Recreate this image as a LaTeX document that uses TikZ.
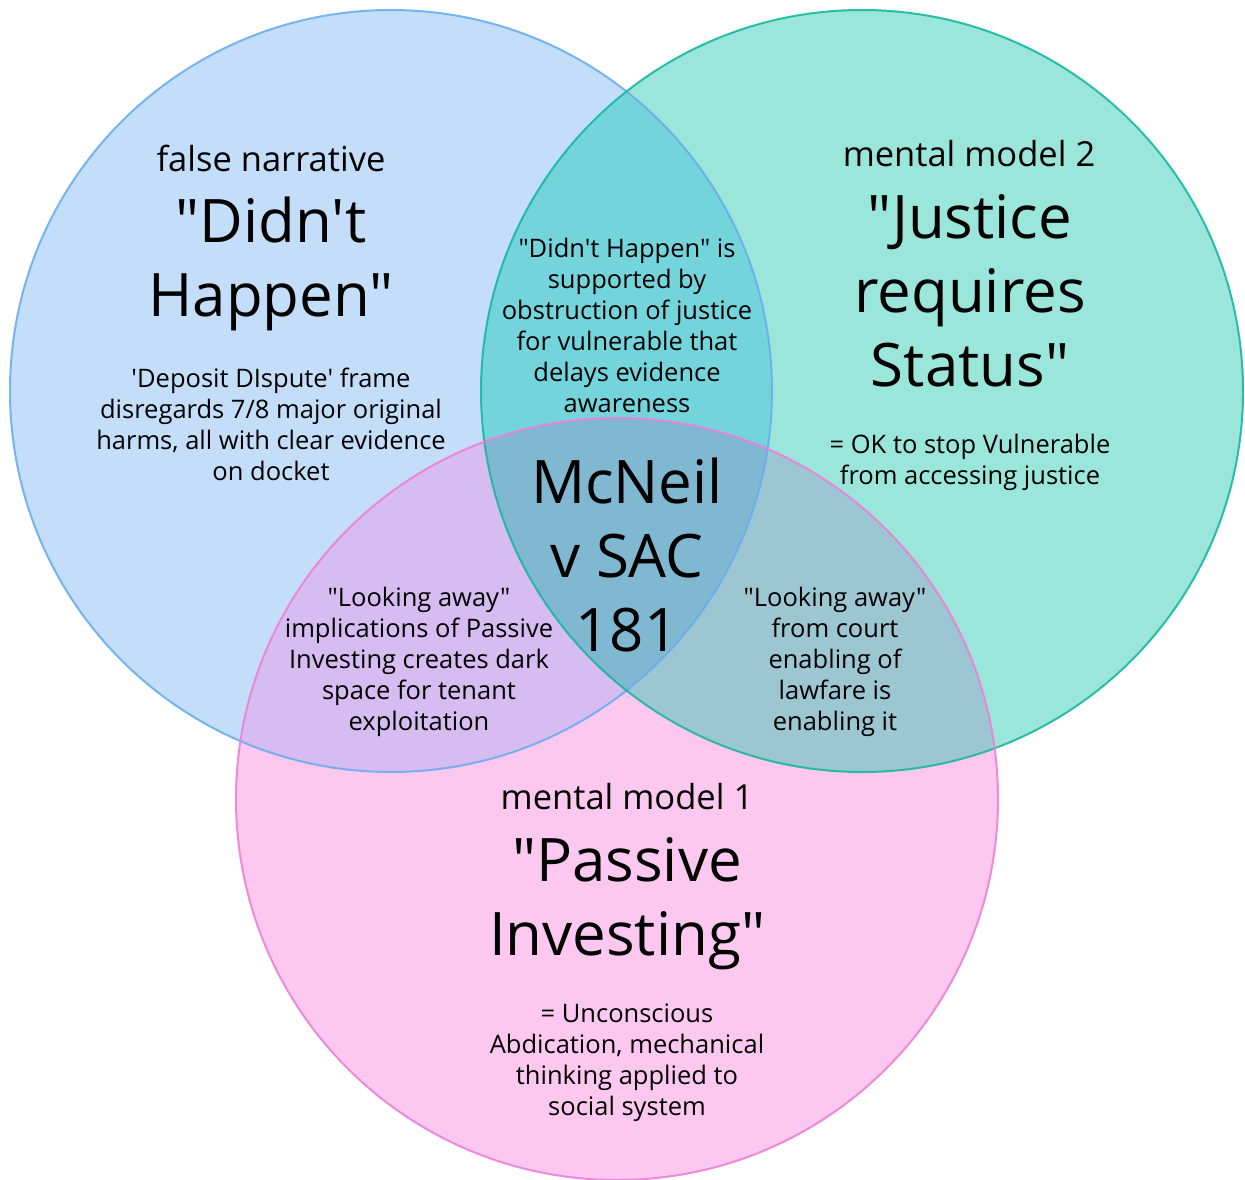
\documentclass[tikz,border=0pt]{standalone}
\usepackage{fontspec}
\newfontfamily\vfont{Open Sans}
\definecolor{bfill}{HTML}{C4DEFA}
\definecolor{tfill}{HTML}{9AE6DA}
\definecolor{pfill}{HTML}{FCC8F0}
\definecolor{btfill}{HTML}{74D4DC}
\definecolor{bpfill}{HTML}{D6BCF0}
\definecolor{tpfill}{HTML}{9CC6D2}
\definecolor{allfill}{HTML}{80B8D2}
\definecolor{bline}{HTML}{6AAEEE}
\definecolor{tline}{HTML}{18B89E}
\definecolor{pline}{HTML}{EE80D8}
\tikzset{
  body/.style={align=center, font=\vfont\fontsize{25.5}{31}\selectfont, inner sep=0pt},
  head/.style={align=center, font=\vfont\fontsize{34.5}{40}\selectfont, inner sep=0pt},
  title/.style={align=center, font=\vfont\fontsize{60}{74}\selectfont, inner sep=0pt},
  ring/.style={line width=2pt, opacity=0.9}
}
\begin{document}
\begin{tikzpicture}[x=1pt,y=-1pt]
\useasboundingbox (0,0) rectangle (1245,1180);
\coordinate (cb) at (391,391);
\coordinate (ct) at (862,391);
\coordinate (cp) at (617,799);
\def\R{381}
% fills
\fill[bfill] (cb) circle[radius=\R];
\fill[tfill] (ct) circle[radius=\R];
\fill[pfill] (cp) circle[radius=\R];
\begin{scope}\clip (cb) circle[radius=\R]; \fill[btfill] (ct) circle[radius=\R];\end{scope}
\begin{scope}\clip (cb) circle[radius=\R]; \fill[bpfill] (cp) circle[radius=\R];\end{scope}
\begin{scope}\clip (ct) circle[radius=\R]; \fill[tpfill] (cp) circle[radius=\R];\end{scope}
\begin{scope}\clip (cb) circle[radius=\R]; \clip (ct) circle[radius=\R]; \fill[allfill] (cp) circle[radius=\R];\end{scope}
% outlines
\draw[ring, bline] (cb) circle[radius=\R];
\draw[ring, tline] (ct) circle[radius=\R];
\draw[ring, pline] (cp) circle[radius=\R];
% blue circle texts
\node[head] (bhead) at (271,158) {false narrative};
\node[title] (btitle) at (271,264) {"Didn't\\Happen"};
\node[body] (bbody) at (271,424) {'Deposit DIspute' frame\\disregards 7/8 major original\\harms, all with clear evidence\\on docket};
% teal circle texts
\node[head] (thead) at (969,154) {mental model 2};
\node[title] (ttitle) at (970,291) {"Justice\\requires\\Status"};
\node[body] (tbody) at (970,462) {= OK to stop Vulnerable\\from accessing justice};
% pink circle texts
\node[head] (phead) at (627,797) {mental model 1};
\node[title] (ptitle) at (627,904) {"Passive\\Investing"};
\node[body] (pbody) at (627,1063) {= Unconscious\\Abdication, mechanical\\thinking applied to\\social system};
% intersections
\node[body] (btbody) at (627,325) {"Didn't Happen" is\\supported by\\obstruction of justice\\for vulnerable that\\delays evidence\\awareness};
\node[body] (bpbody) at (419,662) {"Looking away"\\implications of Passive\\Investing creates dark\\space for tenant\\exploitation};
\node[body] (tpbody) at (835,662) {"Looking away"\\from court\\enabling of\\lawfare is\\enabling it};
\node[title] (center) at (627,555) {McNeil\\v SAC\\181};
\end{tikzpicture}
\end{document}
